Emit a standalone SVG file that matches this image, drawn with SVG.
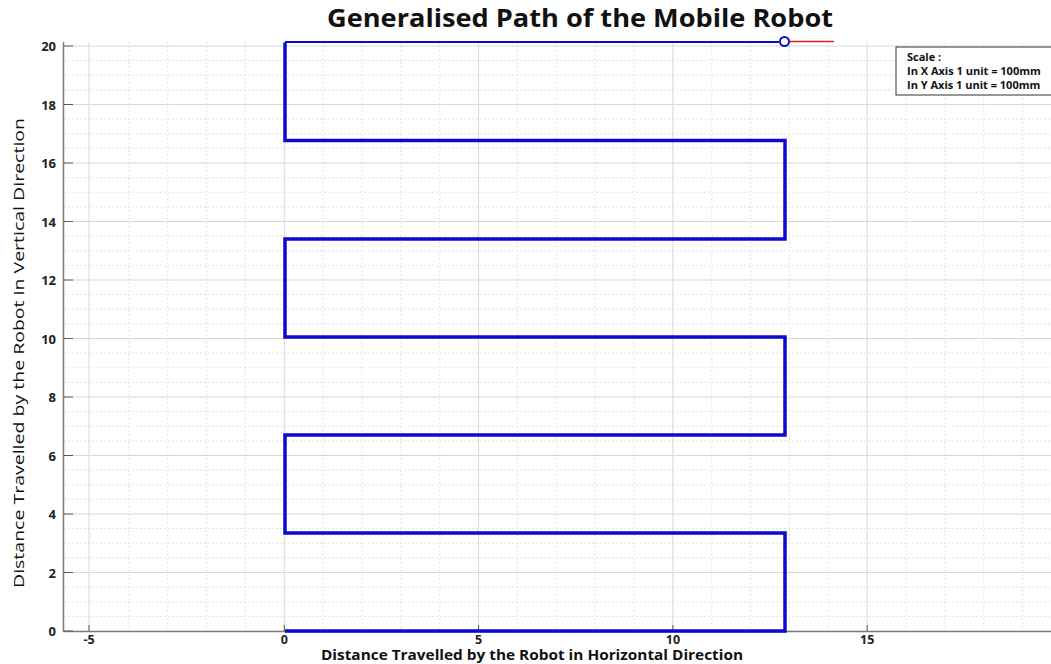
<svg xmlns="http://www.w3.org/2000/svg" width="1051" height="664" viewBox="0 0 1051 664">
<style>
.bg{fill:#ffffff}
.maj{stroke:#d9d9d9;stroke-width:1;fill:none}
.min{stroke:#e4e4e4;stroke-width:1;stroke-dasharray:2 2;fill:none}
.axis{stroke:#7a7a7a;stroke-width:1.5;fill:none}
.tick{stroke:#5a5a5a;stroke-width:1;fill:none}
.tl{font-family:"Open Sans","DejaVu Sans",sans-serif;font-weight:bold;font-size:13px;fill:#222}
.tx{font-size:12.5px}
.path{stroke:#0a0ad0;stroke-width:3.5;fill:none;stroke-linejoin:miter}
.title{font-family:"Open Sans","DejaVu Sans",sans-serif;font-weight:bold;font-size:25px;fill:#111}
.xl{font-family:"Open Sans","DejaVu Sans",sans-serif;font-weight:bold;font-size:13.5px;fill:#111}
.yl{font-family:"Open Sans","DejaVu Sans",sans-serif;font-size:15px;fill:#111}
.leg{font-family:"Open Sans","DejaVu Sans",sans-serif;font-weight:bold;font-size:11px;fill:#111}
</style>
<rect class="bg" x="0" y="0" width="1051" height="664"/>
<g id="grid">
<g class="min">
<path d="M128.9 42V631M167.7 42V631M206.6 42V631M245.4 42V631M323.2 42V631M362 42V631M400.9 42V631M439.7 42V631M517.5 42V631M556.3 42V631M595.2 42V631M634 42V631M711.8 42V631M750.6 42V631M789.5 42V631M828.3 42V631M906.1 42V631M944.9 42V631M983.8 42V631M1022.6 42V631"/>
<path d="M64 616.4H1051M64 601.75H1051M64 587.1H1051M64 557.9H1051M64 543.25H1051M64 528.6H1051M64 499.4H1051M64 484.75H1051M64 470.1H1051M64 440.9H1051M64 426.25H1051M64 411.6H1051M64 382.4H1051M64 367.75H1051M64 353.1H1051M64 323.9H1051M64 309.25H1051M64 294.6H1051M64 265.4H1051M64 250.75H1051M64 236.1H1051M64 206.9H1051M64 192.25H1051M64 177.6H1051M64 148.4H1051M64 133.75H1051M64 119.1H1051M64 89.9H1051M64 75.25H1051M64 60.6H1051"/>
</g>
<g class="maj">
<path d="M89 42V631M284.3 42V631M478.6 42V631M672.9 42V631M867.2 42V631"/>
<path d="M64 572.5H1051M64 514H1051M64 455.5H1051M64 397H1051M64 338.5H1051M64 280H1051M64 221.5H1051M64 163H1051M64 104.5H1051M64 46H1051"/>
</g>
</g>
<g id="axes">
<path class="axis" d="M63.5 42V631.5H1051"/>
<path class="tick" d="M64 631H73M64 572.5H73M64 514H73M64 455.5H73M64 397H73M64 338.5H73M64 280H73M64 221.5H73M64 163H73M64 104.5H73M64 46H73"/>
<path class="tick" d="M89 631V625M284.3 631V625M478.6 631V625M672.9 631V625M867.2 631V625"/>
<g class="tl" text-anchor="end">
<text x="56" y="636">0</text>
<text x="56" y="577.5">2</text>
<text x="56" y="519">4</text>
<text x="56" y="460.5">6</text>
<text x="56" y="402">8</text>
<text x="56" y="343.5">10</text>
<text x="56" y="285">12</text>
<text x="56" y="226.5">14</text>
<text x="56" y="168">16</text>
<text x="56" y="109.5">18</text>
<text x="56" y="51">20</text>
</g>
<g class="tl tx" text-anchor="middle">
<text x="89" y="644">-5</text>
<text x="284.3" y="644">0</text>
<text x="478.6" y="644">5</text>
<text x="672.9" y="644">10</text>
<text x="867.2" y="644">15</text>
</g>
</g>
<g id="robot-path">
<path class="path" d="M285 631H785V533H285V435H785V337H285V239H785V140.5H285V42.5"/>
<path stroke="#0a0ad0" stroke-width="2" fill="none" d="M285 42H779"/>
<path stroke="#e02020" stroke-width="1.5" fill="none" d="M790 41.5H834"/>
<circle cx="784.5" cy="41.5" r="4.5" fill="none" stroke="#0a0ad0" stroke-width="2"/>
</g>
<g id="title">
<text class="title" x="580" y="27" text-anchor="middle" textLength="506" lengthAdjust="spacingAndGlyphs">Generalised Path of the Mobile Robot</text>
</g>
<g id="x-label">
<text class="xl" x="532" y="660" text-anchor="middle" textLength="422" lengthAdjust="spacingAndGlyphs">Distance Travelled by the Robot in Horizontal Direction</text>
</g>
<g id="y-label">
<text class="yl" transform="translate(24 353) rotate(-90)" text-anchor="middle" textLength="470" lengthAdjust="spacingAndGlyphs">Distance Travelled by the Robot in Vertical Direction</text>
</g>
<g id="legend">
<rect x="896" y="47" width="160" height="48" fill="#ffffff" stroke="#333" stroke-width="1"/>
<text class="leg" x="907" y="61">Scale :</text>
<text class="leg" x="907" y="75">In X Axis 1 unit = 100mm</text>
<text class="leg" x="907" y="89">In Y Axis 1 unit = 100mm</text>
</g>
</svg>
